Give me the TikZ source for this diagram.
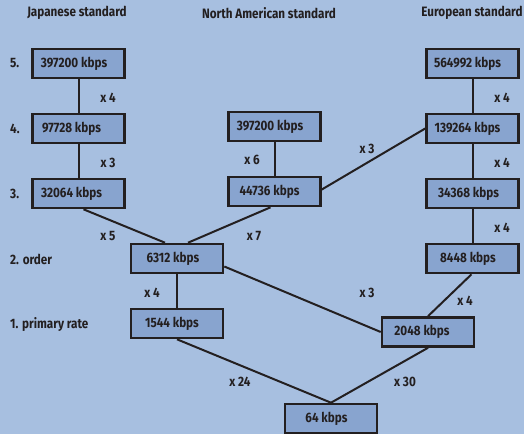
\documentclass[tikz,border=0pt]{standalone}
\usepackage{fontspec}
\setmainfont[FakeStretch=0.86]{Fira Sans}
\definecolor{bgc}{RGB}{167,191,224}
\definecolor{boxc}{RGB}{136,164,207}
\definecolor{ink}{RGB}{35,31,32}
\begin{document}
\begin{tikzpicture}[x=1pt,y=-1pt,
  font=\bfseries\fontsize{13.6}{15}\selectfont,
  every node/.style={text=ink},
  rate/.style={draw=ink,fill=boxc,line width=2.6pt,minimum width=92pt,minimum height=29pt,inner sep=0pt,align=center},
  conn/.style={draw=ink,line width=2pt},
  mult/.style={inner sep=0pt,anchor=center},
  head/.style={inner sep=0pt,anchor=center},
  lvl/.style={inner sep=0pt,anchor=west}]
\clip (0,0) rectangle (524,434);
\fill[bgc] (0,0) rectangle (524,434);
\useasboundingbox (0,0) rectangle (524,434);
% headings
\node[head] (hj) at (77,13) {Japanese standard};
\node[head] (hn) at (269,13) {North American standard};
\node[head] (he) at (472,13) {European standard};
% level labels
\node[lvl] (l5) at (10,63.5) {5.};
\node[lvl] (l4) at (10,128.5) {4.};
\node[lvl] (l3) at (10,193.5) {3.};
\node[lvl] (l2) at (10,259) {2. order};
\node[lvl] (l1) at (10,324.5) {1. primary rate};
% boxes
\node[rate] (j5) at (78.5,63.5) {397200 kbps\hspace*{9pt}};
\node[rate] (j4) at (78.5,128.5) {97728 kbps\hspace*{14pt}};
\node[rate] (j3) at (78.5,193.5) {32064 kbps\hspace*{14pt}};
\node[rate] (n4) at (274.5,126.5) {397200 kbps\hspace*{9pt}};
\node[rate] (n3) at (274.5,191.5) {44736 kbps\hspace*{10pt}};
\node[rate] (o2) at (177,258.5) {6312 kbps\hspace*{8pt}};
\node[rate] (p1) at (177,323.5) {1544 kbps\hspace*{10pt}};
\node[rate] (e5) at (472.5,63.5) {564992 kbps\hspace*{10pt}};
\node[rate] (e4) at (472.5,128.5) {139264 kbps\hspace*{10pt}};
\node[rate] (e3) at (472.5,193.5) {34368 kbps\hspace*{8pt}};
\node[rate] (e2) at (472.5,258.5) {8448 kbps\hspace*{9pt}};
\node[rate] (p2) at (428,332) {2048 kbps\hspace*{12pt}};
\node[rate] (z) at (331,418.5) {64 kbps\hspace*{9pt}};
% connectors
\draw[conn] (j5) -- (j4);
\draw[conn] (j4) -- (j3);
\draw[conn] (n4) -- (n3);
\draw[conn] (e5) -- (e4);
\draw[conn] (e4) -- (e3);
\draw[conn] (e3) -- (e2);
\draw[conn] (o2) -- (p1);
\draw[conn] ([xshift=5pt]j3.south) -- ([xshift=-12pt]o2.north);
\draw[conn] ([xshift=-4pt]n3.south) -- ([xshift=11pt]o2.north);
\draw[conn] ([yshift=2pt]n3.east) -- (e4.west);
\draw[conn] ([yshift=-8pt]o2.east) -- (p2.west);
\draw[conn] ([xshift=-1pt]e2.south) -- (p2.north);
\draw[conn] (p1.south) -- (z.north);
\draw[conn] (p2.south) -- (z.north);
% multipliers
\node[mult] (m1) at (108,98) {x 4};
\node[mult] (m2) at (108,163) {x 3};
\node[mult] (m3) at (108,236) {x 5};
\node[mult] (m4) at (254,236) {x 7};
\node[mult] (m5) at (252,160) {x 6};
\node[mult] (m6) at (367,149) {x 3};
\node[mult] (m7) at (502,98) {x 4};
\node[mult] (m8) at (502,163) {x 4};
\node[mult] (m9) at (502,228) {x 4};
\node[mult] (m10) at (152,293) {x 4};
\node[mult] (m11) at (367,293) {x 3};
\node[mult] (m12) at (465,301) {x 4};
\node[mult] (m13) at (240,382) {x 24};
\node[mult] (m14) at (405,382) {x 30};
\end{tikzpicture}
\end{document}
